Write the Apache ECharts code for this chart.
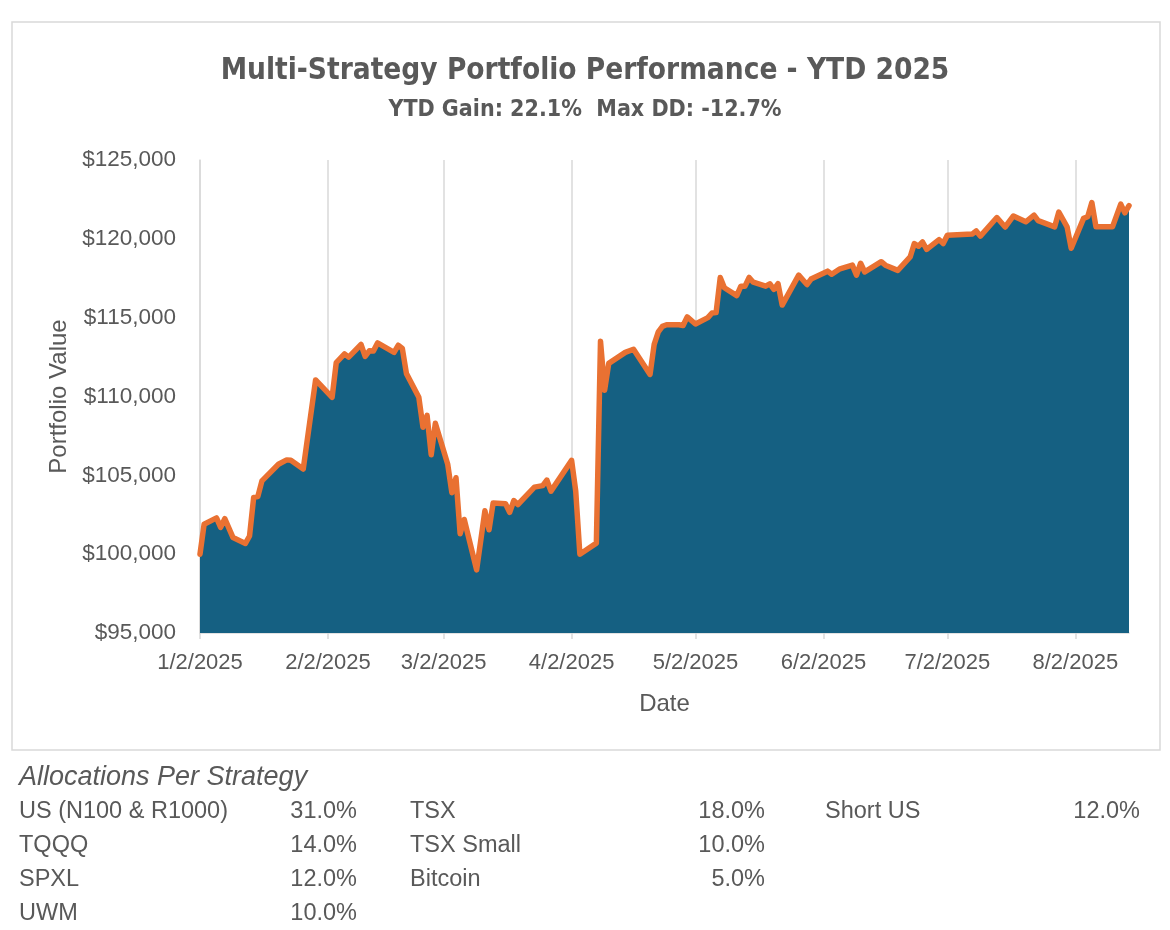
<!DOCTYPE html>
<html>
<head>
<meta charset="utf-8">
<script src="https://cdn.jsdelivr.net/npm/echarts@6.0.0/dist/echarts.min.js"></script>
<style>
  html, body { margin: 0; padding: 0; background: #fff; }
  #main { width: 1170px; height: 930px; }
</style>
</head>
<body>
<div id="main"></div>
<script>
// trading days (month/day, 2025) and the portfolio value on each
var tradeDates = [
  '1/2','1/3','1/6','1/7','1/8','1/10','1/13','1/14','1/15','1/16','1/17','1/21','1/23','1/24','1/27','1/30',
  '2/3','2/4','2/6','2/7','2/10','2/11','2/12','2/13','2/14','2/18','2/19','2/20','2/21','2/24','2/25','2/26','2/27','2/28',
  '3/3','3/4','3/5','3/6','3/7','3/10','3/12','3/13','3/14','3/17','3/18','3/19','3/20','3/24','3/26','3/27','3/28',
  '4/2','4/3','4/4','4/8','4/9','4/10','4/11','4/15','4/17','4/21','4/22','4/23','4/24','4/25','4/28','4/29','4/30',
  '5/2','5/5','5/6','5/7','5/8','5/9','5/12','5/13','5/14','5/15','5/16','5/19','5/20','5/21','5/22','5/23','5/27','5/29','5/30',
  '6/3','6/4','6/6','6/9','6/10','6/11','6/12','6/16','6/17','6/20','6/23','6/24','6/25','6/26','6/27','6/30',
  '7/1','7/2','7/8','7/9','7/10','7/14','7/16','7/18','7/21','7/23','7/24','7/28','7/29','7/31',
  '8/1','8/4','8/5','8/6','8/7','8/11','8/13','8/14','8/15'
];
var portfolioValue = [
  100000,101900,102300,101700,102250,101050,100680,101150,103600,103650,104650,105700,105980,105950,105400,111050,
  109950,112150,112700,112500,113300,112550,112900,112880,113400,112800,113250,113050,111450,109950,108050,108800,106300,108300,
  105700,103900,104850,101300,102200,99000,102750,101550,103250,103200,102650,103400,103150,104250,104350,104700,104000,
  105950,104000,100000,100700,113500,110400,112100,112800,113000,111400,113300,114100,114450,114550,114550,114500,115050,
  114600,115000,115300,115320,117550,116900,116400,117000,117000,117550,117250,117000,117150,116800,117150,115800,117700,117100,117450,
  117950,117750,118100,118330,117700,118450,117900,118550,118330,118000,118850,119700,119530,119800,119330,119950,
  119700,120230,120300,120500,120170,121350,120750,121450,121080,121500,121150,120760,121700,120760,
  119400,121300,121400,122300,120760,120760,122200,121650,122100
];

var yTicks = { min: 95000, max: 125000, step: 5000 };

// allocations table under the chart
var allocNames = [
  ['US (N100 & R1000)', 'TQQQ', 'SPXL', 'UWM'],
  ['TSX', 'TSX Small', 'Bitcoin'],
  ['Short US']
];
var allocPcts = [
  ['31.0%', '14.0%', '12.0%', '10.0%'],
  ['18.0%', '10.0%', '5.0%'],
  ['12.0%']
];

var textColor = '#595959';
var gridColor = '#d9d9d9';
var baseFont = "'Liberation Sans', Arial, sans-serif";
var titleFont = "'Liberation Sans Narrow', 'DejaVu Sans Condensed', 'Roboto Condensed', 'Liberation Sans', sans-serif";

// every calendar day from 1/2/2025 to 8/15/2025, like an Excel date axis
var calendar = [];
var d = new Date(2025, 0, 2);
var end = new Date(2025, 7, 15);
while (d <= end) {
  calendar.push((d.getMonth() + 1) + '/' + d.getDate() + '/2025');
  d.setDate(d.getDate() + 1);
}

var valueByDate = {};
tradeDates.forEach(function (t, i) { valueByDate[t + '/2025'] = portfolioValue[i]; });
var seriesData = calendar.map(function (c) {
  return valueByDate[c] !== undefined ? valueByDate[c] : null;
});

function isSecond(index, value) {
  return calendar[index].split('/')[1] === '2';
}

// table texts
var colX = [[19, 357], [410, 765], [825, 1140]];
var rowY = [812, 846, 880, 914];
var tableText = [{
  type: 'text', x: 19, y: 777,
  style: { text: 'Allocations Per Strategy', font: 'italic 27px ' + baseFont, fill: textColor, verticalAlign: 'middle' }
}];
allocNames.forEach(function (col, ci) {
  col.forEach(function (name, ri) {
    tableText.push({
      type: 'text', x: colX[ci][0], y: rowY[ri],
      style: { text: name, font: '23.5px ' + baseFont, fill: textColor, verticalAlign: 'middle' }
    });
    tableText.push({
      type: 'text', x: colX[ci][1], y: rowY[ri],
      style: { text: allocPcts[ci][ri], font: '23.5px ' + baseFont, fill: textColor, align: 'right', verticalAlign: 'middle' }
    });
  });
});

var chart = echarts.init(document.getElementById('main'));

var option = {
  backgroundColor: '#fff',
  animation: false,
  title: [
    {
      text: 'Multi-Strategy Portfolio Performance - YTD 2025',
      left: 580, top: 51, textAlign: 'center',
      textStyle: { fontFamily: titleFont, fontWeight: 'bold', fontSize: 29.5, color: textColor }
    },
    {
      text: 'YTD Gain: 22.1%  Max DD: -12.7%',
      left: 580, top: 94, textAlign: 'center',
      textStyle: { fontFamily: titleFont, fontWeight: 'bold', fontSize: 23, color: textColor }
    }
  ],
  graphic: [
    {
      type: 'rect', shape: { x: 12, y: 22, width: 1148, height: 728 },
      style: { fill: 'none', stroke: gridColor, lineWidth: 1.5 }, silent: true, z: -1
    }
  ].concat(tableText),
  grid: { left: 200, right: 41, top: 160, bottom: 297 },
  xAxis: {
    type: 'category',
    data: calendar,
    boundaryGap: false,
    name: 'Date',
    nameLocation: 'middle',
    nameGap: 59,
    nameTextStyle: { fontFamily: baseFont, fontSize: 24, color: textColor },
    axisLine: { show: true, lineStyle: { color: gridColor, width: 1.5 } },
    axisTick: { show: true, interval: isSecond, length: 6, lineStyle: { color: gridColor, width: 1.5 } },
    axisLabel: {
      interval: isSecond,
      margin: 19,
      fontFamily: baseFont, fontSize: 22, color: textColor
    },
    splitLine: { show: true, interval: isSecond, lineStyle: { color: gridColor, width: 1.5 } }
  },
  yAxis: {
    type: 'value',
    min: yTicks.min,
    max: yTicks.max,
    interval: yTicks.step,
    name: 'Portfolio Value',
    nameLocation: 'middle',
    nameGap: 122,
    nameRotate: 90,
    nameTextStyle: { fontFamily: baseFont, fontSize: 24, color: textColor },
    axisLine: { show: true, lineStyle: { color: gridColor, width: 1.5 } },
    axisTick: { show: false },
    splitLine: { show: false },
    axisLabel: {
      margin: 24,
      fontFamily: baseFont, fontSize: 22.5, color: textColor,
      formatter: function (v) { return '$' + v.toLocaleString('en-US'); }
    }
  },
  series: [
    {
      type: 'line',
      data: seriesData,
      connectNulls: true,
      showSymbol: false,
      symbol: 'none',
      lineStyle: { color: '#E97132', width: 5.5, join: 'round', cap: 'round' },
      areaStyle: { color: '#156082', opacity: 1, origin: 'start' },
      z: 3
    }
  ]
};

option && chart.setOption(option);
</script>
</body>
</html>
